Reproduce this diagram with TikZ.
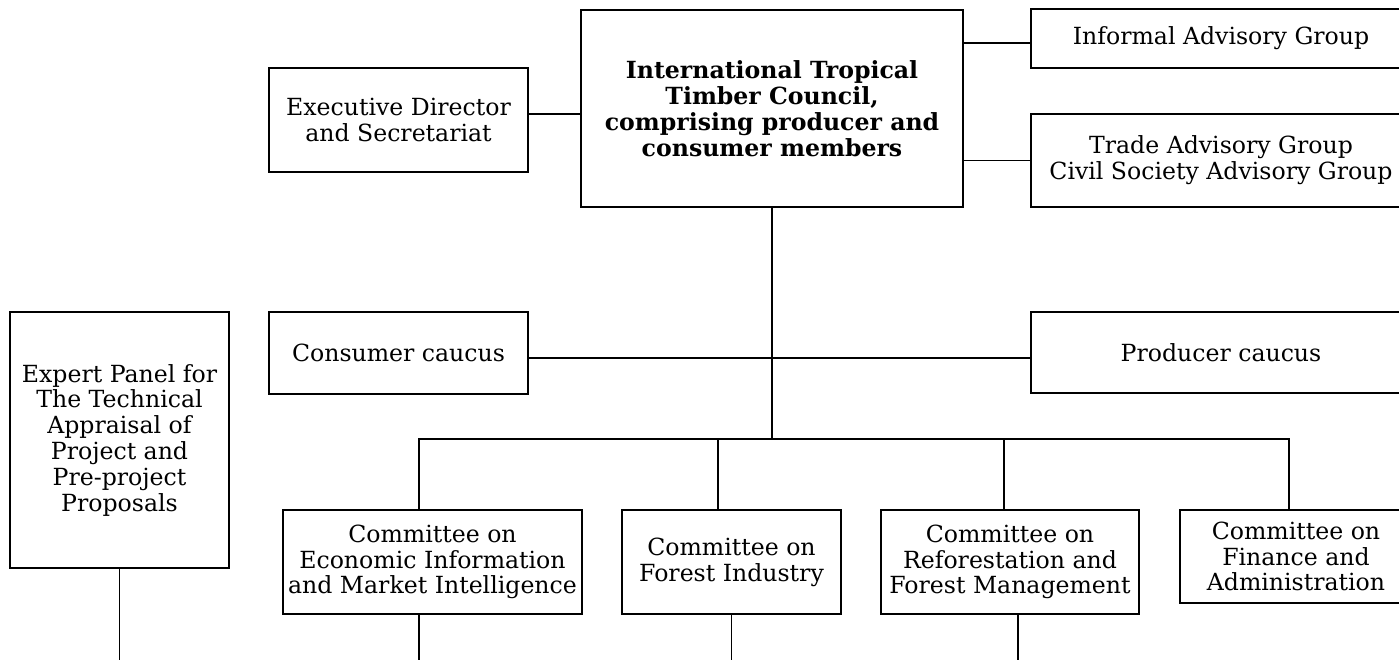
\documentclass[tikz,border=0pt]{standalone}
\usepackage{fontspec}
\setmainfont{DejaVu Serif}
\usetikzlibrary{positioning}
\begin{document}
\begin{tikzpicture}[
  x=0.5pt, y=-0.5pt,
  font=\fontsize{11.8}{12.9}\selectfont,
  b/.style={draw, line width=0.9pt, align=center, inner sep=2pt},
  ln/.style={line width=0.9pt}
]
\useasboundingbox (0,0) rectangle (1399,660);
\clip (0,0) rectangle (1399,660);
\node[b, minimum width=191pt, minimum height=98.5pt, font=\fontsize{11.8}{12.9}\selectfont\bfseries] (itto) at (772,108.5) {International Tropical\\Timber Council,\\comprising producer and\\consumer members};
\node[b, minimum width=129.5pt, minimum height=52pt] (exec) at (398.5,120) {Executive Director\\and Secretariat};
\node[b, minimum width=190pt, minimum height=29.5pt] (informal) at (1221,38.5) {Informal Advisory Group};
\node[b, minimum width=190pt, minimum height=46.5pt] (trade) at (1221,160.5) {Trade Advisory Group\\Civil Society Advisory Group};
\node[b, minimum width=129.5pt, minimum height=41pt] (consumer) at (398.5,353) {Consumer caucus};
\node[b, minimum width=190pt, minimum height=40.5pt] (producer) at (1221,352.5) {Producer caucus};
\node[b, minimum width=109.5pt, minimum height=128pt] (expert) at (119.5,440) {Expert Panel for\\The Technical\\Appraisal of\\Project and\\Pre-project\\Proposals};
\node[b, minimum width=149.5pt, minimum height=52pt] (eimi) at (432.5,562) {Committee on\\Economic Information\\and Market Intelligence};
\node[b, minimum width=109.5pt, minimum height=52pt] (fi) at (731.5,562) {Committee on\\Forest Industry};
\node[b, minimum width=129pt, minimum height=52pt] (refo) at (1010,562) {Committee on\\Reforestation and\\Forest Management};
\node[b, minimum width=116pt, minimum height=46.5pt] (fin) at (1296,556.5) {Committee on\\Finance and\\Administration};

\coordinate (bus) at (772,439);
\coordinate (j1) at (419,439);
\coordinate (j2) at (718,439);
\coordinate (j3) at (1004,439);
\coordinate (j4) at (1289,439);
\coordinate (bot) at (0,660);
\coordinate (k3) at (1018,660);

\draw[ln] ([yshift=3pt]exec.east) -- ([yshift=3pt]exec.east -| itto.west);
\draw[ln] ([yshift=-2.25pt]itto.east |- informal.west) -- ([yshift=-2.25pt]informal.west);
\draw[ln] (itto.east |- trade.west) -- (trade.west);
\draw[ln] (itto.south) -- (bus);
\draw[ln] ([yshift=-2.5pt]consumer.east) -- ([yshift=-2.5pt]consumer.east -| producer.west);
\draw[ln] (j1 |- eimi.north) -- (j1) -- (j4) -- (j4 |- fin.north);
\draw[ln] (j2) -- (j2 |- fi.north);
\draw[ln] (j3) -- (j3 |- refo.north);
\draw[ln] (expert.south) -- (expert.south |- bot);
\draw[ln] (j1 |- eimi.south) -- (j1 |- bot);
\draw[ln] (fi.south) -- (fi.south |- bot);
\draw[ln] (k3 |- refo.south) -- (k3);
\end{tikzpicture}
\end{document}
